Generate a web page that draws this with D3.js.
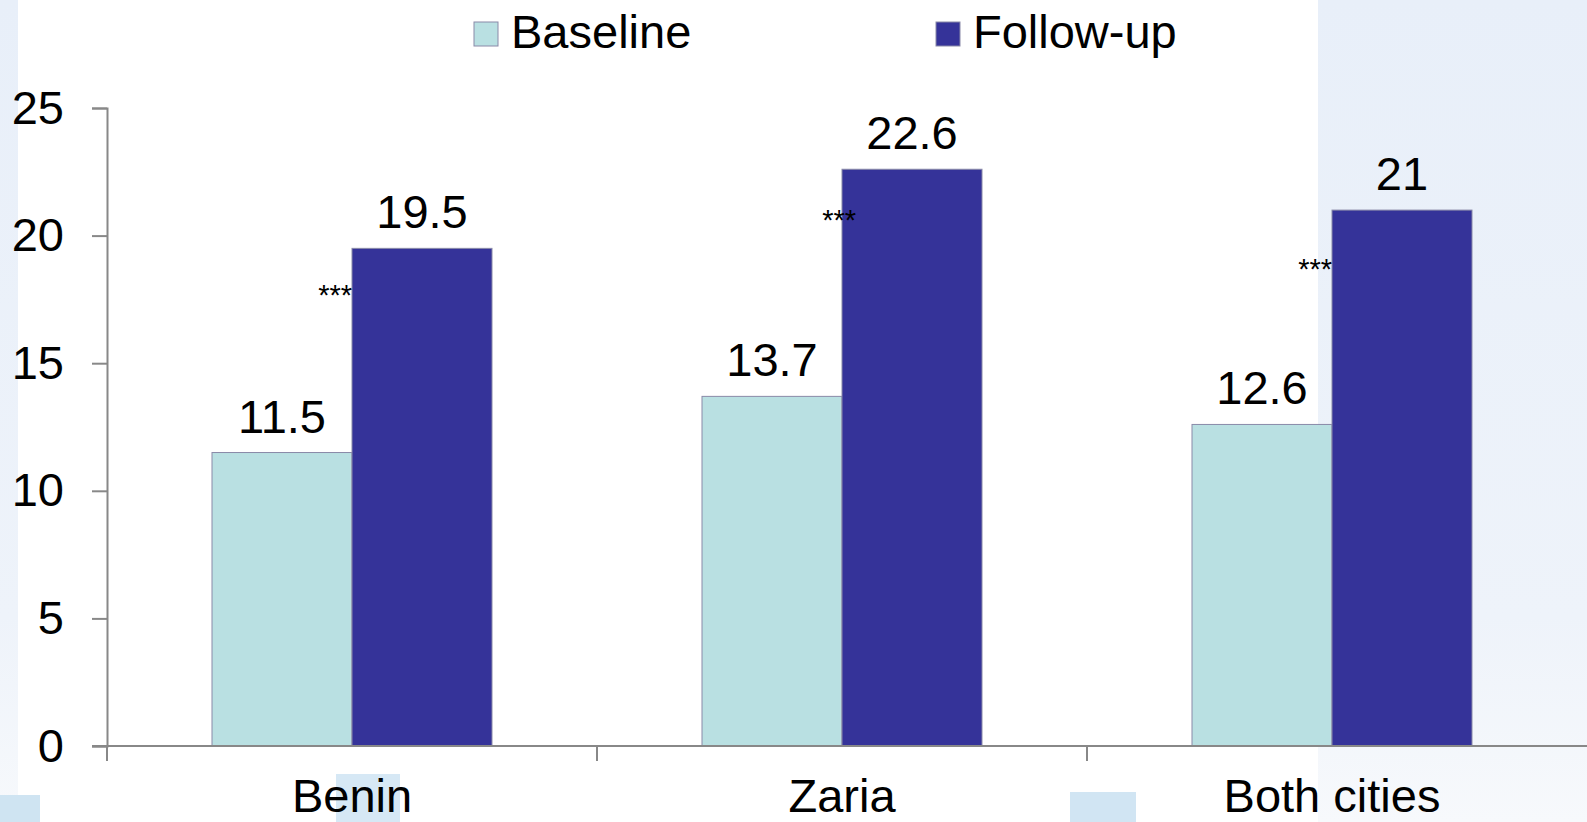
<!DOCTYPE html>
<html>
<head>
<meta charset="utf-8">
<script src="https://cdn.jsdelivr.net/npm/d3@7"></script>
<style>
  body { margin: 0; background: #fff; }
  svg { display: block; font-family: "Liberation Sans", Arial, sans-serif; }
</style>
</head>
<body>
<svg id="chart"></svg>
<script>
// data
var cities = ["Benin", "Zaria", "Both cities"];
var seriesNames = ["Baseline", "Follow-up"];
var baseline = [11.5, 13.7, 12.6];
var followup = [19.5, 22.6, 21];
var sigLabels = ["***", "***", "***"];
var sigLevel = [17.3, 20.2, 18.3]; // height of the *** markers in axis units
var yTicks = [0, 5, 10, 15, 20, 25];
var colors = ["#b9e0e2", "#353399"];

var width = 1587,
  height = 822;
var margin = { top: 108, left: 107, bottom: 76 };

var svg = d3.select("#chart")
  .attr("width", width)
  .attr("height", height);

// slide background
var defs = svg.append("defs");
var grad = defs.append("linearGradient")
  .attr("id", "panelGrad")
  .attr("x1", 0).attr("y1", 0).attr("x2", 0).attr("y2", 1);
grad.append("stop").attr("offset", "0%").attr("stop-color", "#e8eff9");
grad.append("stop").attr("offset", "75%").attr("stop-color", "#eef3fa");
grad.append("stop").attr("offset", "100%").attr("stop-color", "#f7f9fc");

svg.append("rect")
  .attr("x", 0).attr("y", 0)
  .attr("width", 18).attr("height", height)
  .attr("fill", "url(#panelGrad)");
svg.append("rect")
  .attr("x", 1318).attr("y", 0)
  .attr("width", width - 1318).attr("height", height)
  .attr("fill", "url(#panelGrad)");
svg.append("rect")
  .attr("x", 0).attr("y", 795).attr("width", 40).attr("height", 27)
  .attr("fill", "#cfe4f2");
svg.append("rect")
  .attr("x", 1070).attr("y", 792).attr("width", 66).attr("height", 30)
  .attr("fill", "#d1e5f3");
svg.append("rect")
  .attr("x", 336).attr("y", 774).attr("width", 64).attr("height", 48)
  .attr("fill", "#d6e8f5");

// scales
var x0 = d3.scaleBand()
  .domain(cities)
  .range([margin.left, margin.left + 490 * 3])
  .paddingInner(0)
  .paddingOuter(0);

var x1 = d3.scaleBand()
  .domain(seriesNames)
  .range([0, x0.bandwidth()])
  .paddingInner(0)
  .paddingOuter(0.75);

var y = d3.scaleLinear()
  .domain([0, 25])
  .range([height - margin.bottom, margin.top]);

var rows = cities.map(function(c, i) {
  return { city: c, values: [baseline[i], followup[i]], sig: sigLabels[i], sigY: sigLevel[i] };
});

// y axis
var yAxis = svg.append("g")
  .attr("transform", "translate(" + margin.left + ",0)")
  .call(d3.axisLeft(y).tickValues(yTicks).tickSize(15).tickPadding(28));
yAxis.select(".domain").attr("stroke", "#888").attr("stroke-width", 2);
yAxis.selectAll(".tick line").attr("stroke", "#888").attr("stroke-width", 2);
yAxis.selectAll(".tick text")
  .attr("font-size", "47px")
  .attr("fill", "#000")
  .attr("font-family", "Liberation Sans, Arial, sans-serif");

// bars
var group = svg.selectAll(".city")
  .data(rows)
  .enter().append("g")
  .attr("class", "city")
  .attr("transform", function(d) { return "translate(" + x0(d.city) + ",0)"; });

group.selectAll("rect")
  .data(function(d) {
    return d.values.map(function(v, j) { return { name: seriesNames[j], value: v, idx: j }; });
  })
  .enter().append("rect")
  .attr("x", function(d) { return x1(d.name); })
  .attr("y", function(d) { return y(d.value); })
  .attr("width", x1.bandwidth())
  .attr("height", function(d) { return y(0) - y(d.value); })
  .attr("fill", function(d) { return colors[d.idx]; })
  .attr("stroke", "#8a8aa8")
  .attr("stroke-width", 1);

group.selectAll(".val")
  .data(function(d) {
    return d.values.map(function(v, j) { return { name: seriesNames[j], value: v }; });
  })
  .enter().append("text")
  .attr("class", "val")
  .attr("x", function(d) { return x1(d.name) + x1.bandwidth() / 2; })
  .attr("y", function(d) { return y(d.value) - 20; })
  .attr("text-anchor", "middle")
  .attr("font-size", "47px")
  .attr("fill", "#000")
  .text(function(d) { return d.value; });

// significance markers
group.append("text")
  .attr("x", function(d, i) { return x1("Follow-up") + (i == 1 ? 14 : 0); })
  .attr("y", function(d) { return y(d.sigY); })
  .attr("text-anchor", "end")
  .attr("font-size", "29px")
  .attr("fill", "#000")
  .text(function(d) { return d.sig; });

// x axis
var baseY = y(0);
svg.append("line")
  .attr("x1", 92).attr("x2", width)
  .attr("y1", baseY).attr("y2", baseY)
  .attr("stroke", "#888").attr("stroke-width", 2);

svg.selectAll(".xtick")
  .data(cities)
  .enter().append("line")
  .attr("class", "xtick")
  .attr("x1", function(d) { return x0(d); })
  .attr("x2", function(d) { return x0(d); })
  .attr("y1", baseY)
  .attr("y2", baseY + 15)
  .attr("stroke", "#888").attr("stroke-width", 2);

svg.selectAll(".xlabel")
  .data(cities)
  .enter().append("text")
  .attr("class", "xlabel")
  .attr("x", function(d) { return x0(d) + x0.bandwidth() / 2; })
  .attr("y", 812)
  .attr("text-anchor", "middle")
  .attr("font-size", "47px")
  .attr("fill", "#000")
  .text(function(d) { return d; });

// legend
var legendX = [474, 936];
var legend = svg.selectAll(".legend")
  .data(seriesNames)
  .enter().append("g")
  .attr("class", "legend")
  .attr("transform", function(d, i) { return "translate(" + legendX[i] + ",22)"; });

legend.append("rect")
  .attr("width", 24).attr("height", 24)
  .attr("fill", function(d, i) { return colors[i]; })
  .attr("stroke", "#8a8aa8")
  .attr("stroke-width", 1);

legend.append("text")
  .attr("x", 37)
  .attr("y", 26)
  .attr("font-size", "47px")
  .attr("fill", "#000")
  .text(function(d) { return d; });
</script>
</body>
</html>
